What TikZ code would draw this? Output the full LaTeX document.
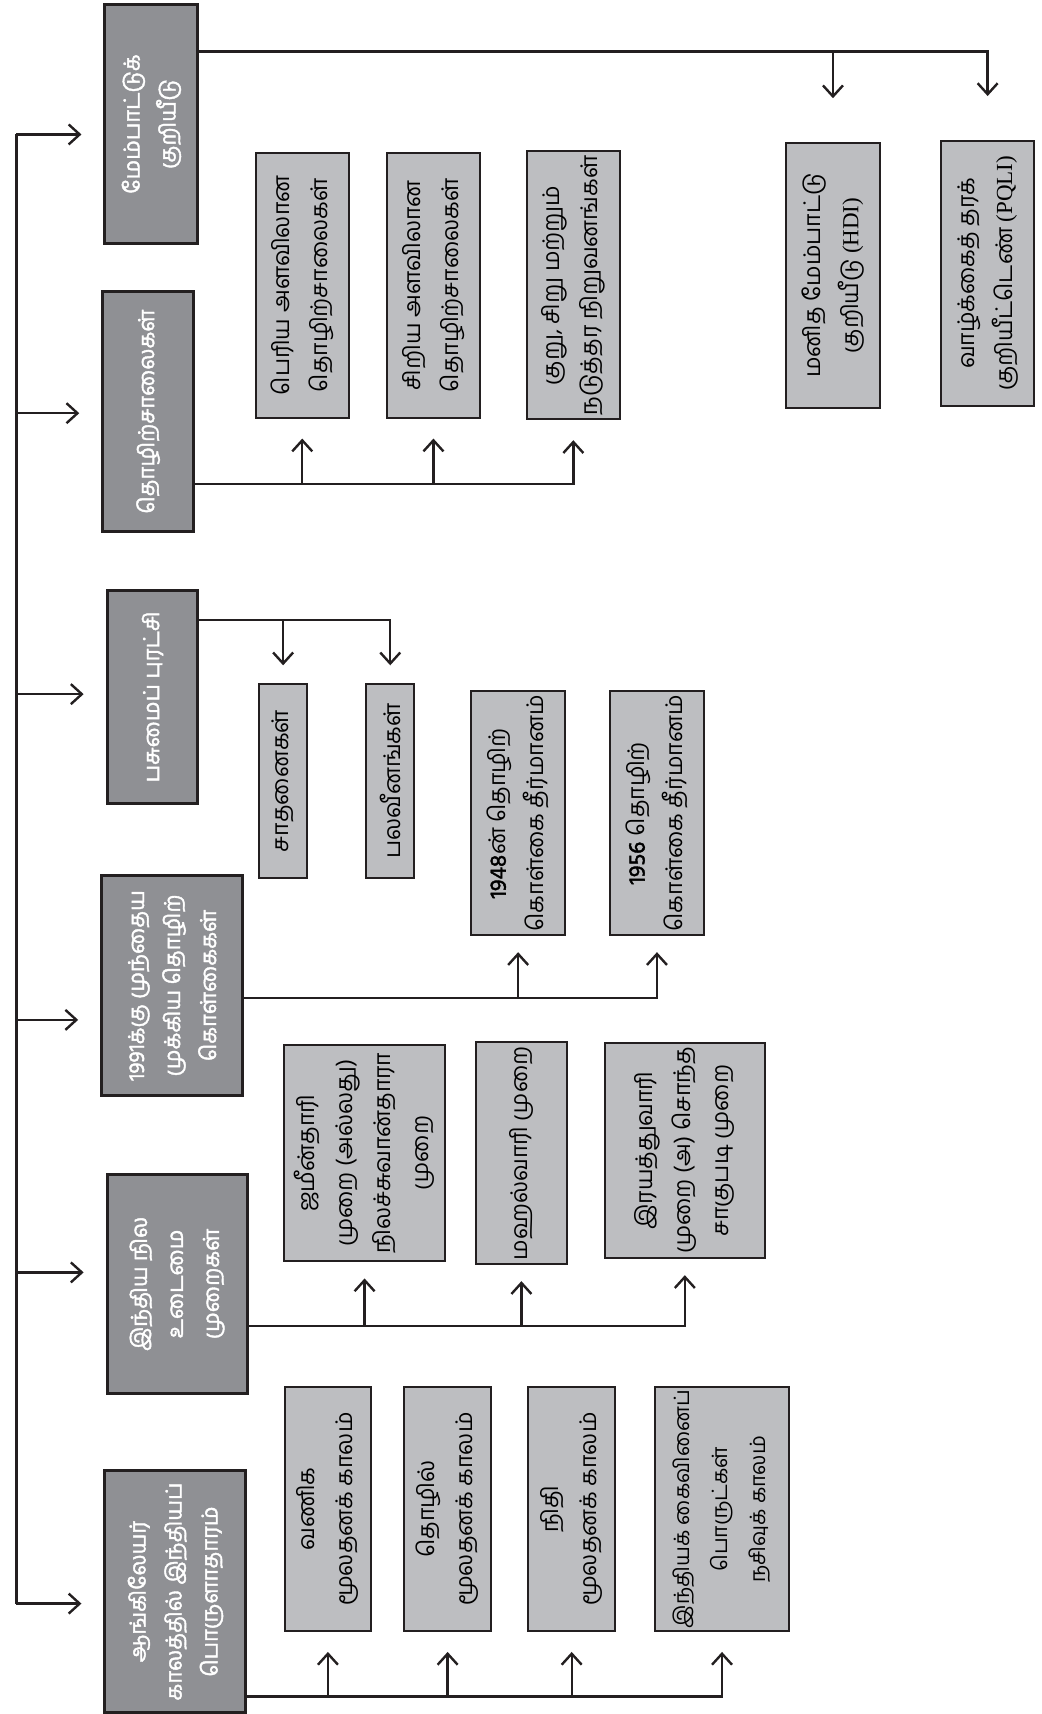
\documentclass[tikz,border=0pt]{standalone}
\usepackage{fontspec}
\usepackage{tikz}
\usetikzlibrary{positioning,calc}
\usetikzlibrary{arrows.meta}
\newfontfamily\tamilfont[Script=Tamil]{Hind Madurai}
\newfontfamily\tamilbold[Script=Tamil,FakeBold=1.8]{Hind Madurai}
\newfontfamily\latinserif{Liberation Serif}
\definecolor{BoxDark}{RGB}{143,144,148}
\definecolor{BoxLight}{RGB}{189,190,193}
\definecolor{InkBlack}{RGB}{35,31,32}
\tikzset{
	headbox/.style={rotate=90,draw=InkBlack,fill=BoxDark,line width=1.5pt,text=white,align=center,inner sep=2pt,
		font=\tamilbold\fontsize{11}{18}\selectfont},
	itembox/.style={rotate=90,draw=InkBlack,fill=BoxLight,line width=1pt,align=center,inner sep=2pt,
		font=\tamilfont\fontsize{11.5}{19}\selectfont},
	sz/.style 2 args={minimum height=#1*0.5467pt,minimum width=#2*0.5467pt},
	link/.style={draw=InkBlack,line width=1.2pt},
	arr/.style={link,-{Straight Barb[length=5.5pt,width=10pt]}},
}

\begin{document}
\begin{tikzpicture}[x=0.5467pt,y=-0.5467pt]
			\useasboundingbox (0,0) rectangle (953,1568);
			% main column
			\node[headbox,sz={85}{219}] (m1) at (138.5,113.5) {மேம்பாட்டுக்\\குறியீடு};
			\node[headbox,sz={83}{219}] (m2) at (135.5,376.5) {தொழிற்சாலைகள்};
			\node[headbox,sz={83}{195}] (m3) at (139.5,637.5) {பசுமைப் புரட்சி};
			\node[headbox,sz={129}{201}] (m4) at (157.5,901.5) {1991க்கு முந்தைய\\முக்கிய தொழிற்\\கொள்கைகள்};
			\node[headbox,sz={128}{201}] (m5) at (162,1174.5) {இந்திய நில\\உடைமை\\முறைகள்};
			\node[headbox,sz={129}{222}] (m6) at (160.5,1456) {ஆங்கிலேயர்\\காலத்தில் இந்தியப்\\பொருளாதாரம்};
			% children
			\node[itembox,sz={86}{242}] (hdi) at (762,252) {மனித மேம்பாட்டு\\குறியீடு {\latinserif (HDI)}};
			\node[itembox,sz={85}{242}] (pqli) at (903.5,250) {வாழ்க்கைத் தரக்\\குறியீட்டெண் {\latinserif (PQLI)}};
			\node[itembox,sz={85}{242}] (big) at (276.5,261) {பெரிய அளவிலான\\தொழிற்சாலைகள்};
			\node[itembox,sz={85}{242}] (small) at (396.5,261) {சிறிய அளவிலான\\தொழிற்சாலைகள்};
			\node[itembox,sz={85}{242}] (msme) at (524.5,261) {குறு, சிறு மற்றும்\\நடுத்தர நிறுவனங்கள்};
			\node[itembox,sz={44}{177}] (ach) at (259,714.5) {சாதனைகள்};
			\node[itembox,sz={44}{177}] (weak) at (357,714.5) {பலவீனங்கள்};
			\node[itembox,sz={86}{220}] (p48) at (474,744) {{\tamilbold 1948}ன் தொழிற்\\கொள்கை தீர்மானம்};
			\node[itembox,sz={86}{220}] (p56) at (601,744) {{\tamilbold 1956} தொழிற்\\கொள்கை தீர்மானம்};
			\node[itembox,sz={147}{198}] (zam) at (333.5,1055) {ஜமீன்தாரி\\முறை (அல்லது)\\நிலச்சுவான்தாரா\\முறை};
			\node[itembox,sz={84}{198}] (mah) at (477,1055) {மஹல்வாரி முறை};
			\node[itembox,sz={147}{197}] (ryot) at (626.5,1052.5) {இரயத்துவாரி\\முறை (அ) சொந்த\\சாகுபடி முறை};
			\node[itembox,sz={78}{223}] (merc) at (300,1380.5) {வணிக\\மூலதனக் காலம்};
			\node[itembox,sz={79}{223}] (indus) at (409.5,1380.5) {தொழில்\\மூலதனக் காலம்};
			\node[itembox,sz={80}{223}] (fin) at (523,1380.5) {நிதி\\மூலதனக் காலம்};
			\node[itembox,sz={123}{223},inner sep=1pt,font=\tamilfont\fontsize{10.6}{19}\selectfont] (decl) at (660.5,1380.5) {இந்தியக் கைவினைப்\\பொருட்கள்\\நசிவுக் காலம்};
			% spine
			\coordinate (s1) at (15,123);
			\coordinate (s2) at (15,378);
			\coordinate (s3) at (15,635);
			\coordinate (s4) at (15,933);
			\coordinate (s5) at (15,1164);
			\coordinate (s6) at (15,1467);
			\draw[link] (s1)--(s6);
			\foreach \s/\m in {s1/m1,s2/m2,s3/m3,s4/m4,s5/m5,s6/m6}
				\draw[arr,shorten >=11pt] (\s)--(\s -| \m.north);
			% bus levels
			\coordinate (b1) at (0,47);
			\coordinate (b2) at (0,443);
			\coordinate (b3) at (0,567);
			\coordinate (b4) at (0,913);
			\coordinate (b5) at (0,1213);
			\coordinate (b6) at (0,1552);
			\draw[arr,shorten >=22pt] (m1.south |- b1) -| (pqli.east);
			\draw[arr,shorten >=22pt] (hdi.east |- b1)--(hdi.east);
			\draw[arr,shorten >=10pt] (m2.south |- b2) -| (msme.west);
			\foreach \c in {big,small}
				\draw[arr,shorten >=10pt] (\c.west |- b2)--(\c.west);
			\draw[arr,shorten >=9pt] (m3.south |- b3) -| (weak.east);
			\draw[arr,shorten >=9pt] (ach.east |- b3)--(ach.east);
			\draw[arr,shorten >=8pt] (m4.south |- b4) -| (p56.west);
			\draw[arr,shorten >=8pt] (p48.west |- b4)--(p48.west);
			\draw[arr,shorten >=8pt] (m5.south |- b5) -| (ryot.west);
			\foreach \c in {zam,mah}
				\draw[arr,shorten >=8pt] (\c.west |- b5)--(\c.west);
			\draw[arr,shorten >=10pt] (m6.south |- b6) -| (decl.west);
			\foreach \c in {merc,indus,fin}
				\draw[arr,shorten >=10pt] (\c.west |- b6)--(\c.west);
		\end{tikzpicture}
\end{document}
